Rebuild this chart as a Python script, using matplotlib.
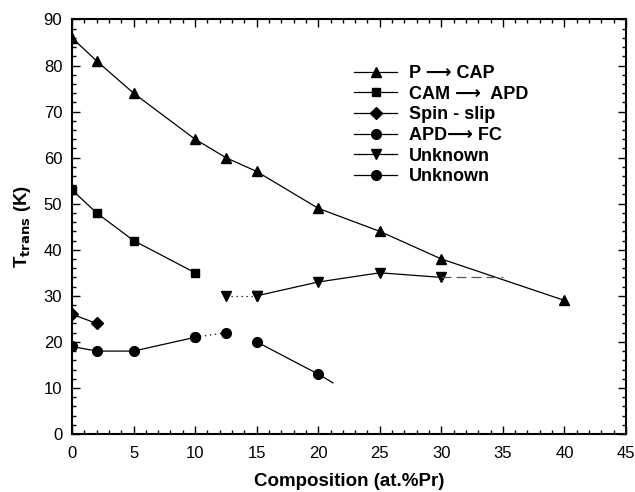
import matplotlib
matplotlib.use("Agg")
import matplotlib.pyplot as plt
from matplotlib.ticker import MultipleLocator

plt.rcParams['font.family'] = ['Liberation Sans', 'DejaVu Sans']

# data
p_cap_x = [0, 2, 5, 10, 12.5, 15, 20, 25, 30, 40]
p_cap_y = [86, 81, 74, 64, 60, 57, 49, 44, 38, 29]

cam_apd_x = [0, 2, 5, 10]
cam_apd_y = [53, 48, 42, 35]

spin_x = [0, 2]
spin_y = [26, 24]

apd_fc_x = [0, 2, 5, 10]
apd_fc_y = [19, 18, 18, 21]

unk1_x = [15, 20, 25, 30]
unk1_y = [30, 33, 35, 34]

unk2_x = [15, 20]
unk2_y = [20, 13]

# isolated points joined by dotted lines
unk1_start_x = [12.5, 15]
unk1_start_y = [30, 30]
apd_fc_end_x = [10, 12.5]
apd_fc_end_y = [21, 22]

# extrapolated tails
unk1_tail_x = [30, 35]
unk1_tail_y = [34, 34]
unk2_tail_x = [20, 21.2]
unk2_tail_y = [13, 11.1]

labels = ['P \u27f6 CAP', 'CAM \u27f6  APD', 'Spin - slip',
          'APD\u27f6 FC', 'Unknown', 'Unknown']

fig = plt.figure(figsize=(6.35, 4.92), dpi=100)
ax = fig.add_axes([0.1134, 0.1179, 0.8724, 0.8425])

lw = 0.9
ms = 7
ax.plot(p_cap_x, p_cap_y, color='black', lw=lw, marker='^', ms=ms, label=labels[0])
ax.plot(cam_apd_x, cam_apd_y, color='black', lw=lw, marker='s', ms=ms - 1, label=labels[1])
ax.plot(spin_x, spin_y, color='black', lw=lw, marker='D', ms=ms - 1, label=labels[2])
ax.plot(apd_fc_x, apd_fc_y, color='black', lw=lw, marker='o', ms=ms, label=labels[3])
ax.plot(unk1_x, unk1_y, color='black', lw=lw, marker='v', ms=ms, label=labels[4])
ax.plot(unk2_x, unk2_y, color='black', lw=lw, marker='o', ms=ms, label=labels[5])

ax.plot(unk1_start_x, unk1_start_y, color='black', lw=lw, ls=(0, (1, 3)), marker='v', ms=ms)
ax.plot(apd_fc_end_x, apd_fc_end_y, color='black', lw=lw, ls=(0, (1, 3)), marker='o', ms=ms)
ax.plot(unk1_tail_x, unk1_tail_y, color='#555555', lw=lw, ls=(0, (8, 4)))
ax.plot(unk2_tail_x, unk2_tail_y, color='black', lw=lw)

ax.set_xlim(0, 45)
ax.set_ylim(0, 90)
ax.xaxis.set_major_locator(MultipleLocator(5))
ax.xaxis.set_minor_locator(MultipleLocator(1))
ax.yaxis.set_major_locator(MultipleLocator(10))
ax.yaxis.set_minor_locator(MultipleLocator(2))
ax.tick_params(which='both', direction='in', top=True, right=True, labelsize=12, width=1)
ax.tick_params(which='major', length=6)
ax.tick_params(which='minor', length=3)
ax.tick_params(axis='x', which='major', pad=9)
ax.tick_params(axis='y', which='major', pad=7)
for s in ax.spines.values():
    s.set_linewidth(1.5)

ax.set_xlabel('Composition (at.%Pr)', fontsize=13.5, fontweight='bold', labelpad=8)
ax.set_ylabel('T$_{\\mathbf{trans}}$ (K)', fontsize=13.5, fontweight='bold', labelpad=8)

ax.legend(loc='upper left', bbox_to_anchor=(0.509, 0.89), frameon=False,
          prop={'weight': 'bold', 'size': 13}, handlelength=2.4,
          labelspacing=0.2, handletextpad=0.65, borderaxespad=0, borderpad=0)

fig.savefig('out.png', dpi=100)
